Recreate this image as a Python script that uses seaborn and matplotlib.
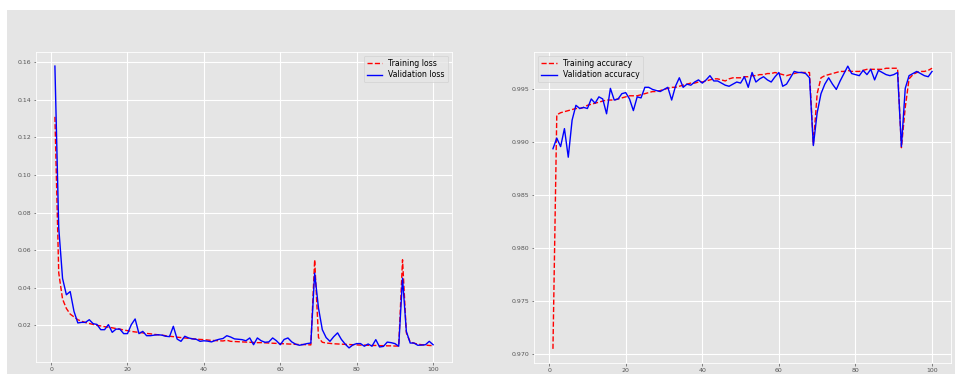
import numpy as np
import pandas as pd
import matplotlib
matplotlib.use("Agg")
import matplotlib.pyplot as plt
from matplotlib.patches import Rectangle
import seaborn as sns

epochs = list(range(1, 101))

train_loss = [
    0.131, 0.048, 0.034, 0.029, 0.026, 0.0245, 0.023, 0.0222, 0.0215, 0.021,
    0.0205, 0.020, 0.0197, 0.0193, 0.019, 0.0187, 0.0183, 0.018, 0.0175, 0.0172,
    0.0168, 0.0165, 0.0163, 0.016, 0.0157, 0.0155, 0.0152, 0.015, 0.0148, 0.0145,
    0.0142, 0.0140, 0.0137, 0.0135, 0.0133, 0.0131, 0.0129, 0.0127, 0.0125, 0.0124,
    0.0122, 0.0120, 0.0119, 0.0118, 0.0117, 0.0121, 0.0115, 0.0114, 0.0113, 0.0112,
    0.0111, 0.0110, 0.0109, 0.0108, 0.0108, 0.0107, 0.0106, 0.0105, 0.0104, 0.0103,
    0.0102, 0.0101, 0.0100, 0.0099, 0.0098, 0.0098, 0.0097, 0.0096, 0.0549, 0.0135,
    0.0110, 0.0106, 0.0104, 0.0102, 0.0101, 0.0100, 0.0099, 0.0098, 0.0097, 0.0096,
    0.0095, 0.0095, 0.0094, 0.0093, 0.0093, 0.0092, 0.0092, 0.0091, 0.0091, 0.0090,
    0.0090, 0.0549, 0.0160, 0.0112, 0.0105, 0.0100, 0.0097, 0.0095, 0.0093, 0.0092,
]

val_loss = [
    0.158, 0.072, 0.045, 0.0363, 0.038, 0.0274, 0.0213, 0.0216, 0.0216, 0.023,
    0.0209, 0.0205, 0.0177, 0.0177, 0.0204, 0.0163, 0.018, 0.018, 0.0156, 0.0156,
    0.0204, 0.0234, 0.0156, 0.0168, 0.0145, 0.0145, 0.0148, 0.0150, 0.0148, 0.0142,
    0.0140, 0.0195, 0.0127, 0.0115, 0.0142, 0.0133, 0.0128, 0.0126, 0.0115, 0.0118,
    0.0116, 0.0112, 0.0120, 0.0126, 0.0130, 0.0145, 0.0138, 0.0128, 0.0126, 0.0124,
    0.0118, 0.0133, 0.0097, 0.0133, 0.0118, 0.0110, 0.0112, 0.0133, 0.0118, 0.0097,
    0.0125, 0.0133, 0.0112, 0.0100, 0.0094, 0.0098, 0.0103, 0.0106, 0.0478, 0.0292,
    0.0177, 0.0135, 0.0115, 0.0140, 0.0160, 0.0125, 0.0100, 0.0080, 0.0096, 0.0103,
    0.0103, 0.0089, 0.0101, 0.0089, 0.0124, 0.0085, 0.0088, 0.0111, 0.0108, 0.0103,
    0.0089, 0.0451, 0.0168, 0.0106, 0.0106, 0.0094, 0.0095, 0.0097, 0.0115, 0.0097,
]

train_acc = [
    0.9705, 0.9926, 0.9928, 0.9929, 0.9930, 0.9931, 0.9932, 0.9932, 0.9933, 0.9935,
    0.9936, 0.9937, 0.9938, 0.9939, 0.9940, 0.9940, 0.9940, 0.9941, 0.9942, 0.9943,
    0.9944, 0.9944, 0.9944, 0.9945, 0.9946, 0.9947, 0.9948, 0.9948, 0.9949, 0.9950,
    0.9951, 0.9952, 0.9952, 0.9953, 0.9954, 0.9955, 0.9956, 0.9956, 0.9957, 0.9957,
    0.9958, 0.9959, 0.9960, 0.9960, 0.9959, 0.9958, 0.9960, 0.9961, 0.9961, 0.9961,
    0.9962, 0.9962, 0.9963, 0.9963, 0.9964, 0.9964, 0.9965, 0.9965, 0.9966, 0.9965,
    0.9964, 0.9963, 0.9964, 0.9965, 0.9966, 0.9966, 0.9966, 0.9966, 0.9898, 0.9946,
    0.9961, 0.9963, 0.9964, 0.9965, 0.9966, 0.9967, 0.9967, 0.9968, 0.9967, 0.9967,
    0.9967, 0.9968, 0.9969, 0.9969, 0.9969, 0.9969, 0.9969, 0.9970, 0.9970, 0.9970,
    0.9970, 0.9895, 0.9933, 0.9960, 0.9964, 0.9966, 0.9967, 0.9967, 0.9968, 0.9970,
]

val_acc = [
    0.9894, 0.9904, 0.9896, 0.9913, 0.9886, 0.9921, 0.9935, 0.9932, 0.9933, 0.9932,
    0.9941, 0.9937, 0.9943, 0.9941, 0.9927, 0.9951, 0.9940, 0.9941, 0.9946, 0.9947,
    0.9941, 0.9930, 0.9943, 0.9942, 0.9952, 0.9952, 0.9950, 0.9949, 0.9948, 0.9950,
    0.9952, 0.9940, 0.9953, 0.9961, 0.9952, 0.9955, 0.9954, 0.9957, 0.9959, 0.9956,
    0.9959, 0.9963, 0.9958, 0.9958, 0.9956, 0.9954, 0.9953, 0.9955, 0.9957, 0.9956,
    0.9962, 0.9952, 0.9966, 0.9957, 0.9960, 0.9962, 0.9959, 0.9957, 0.9962, 0.9966,
    0.9953, 0.9955, 0.9961, 0.9967, 0.9966, 0.9966, 0.9965, 0.9961, 0.9897, 0.9928,
    0.9946, 0.9955, 0.9961, 0.9955, 0.9950, 0.9958, 0.9965, 0.9972, 0.9965, 0.9964,
    0.9963, 0.9968, 0.9964, 0.9969, 0.9959, 0.9968, 0.9966, 0.9964, 0.9963, 0.9964,
    0.9966, 0.9896, 0.9951, 0.9963, 0.9965, 0.9967, 0.9965, 0.9963, 0.9962, 0.9967,
]

loss_labels = ["Training loss", "Validation loss"]
acc_labels = ["Training accuracy", "Validation accuracy"]

plt.style.use("ggplot")
plt.rcParams["font.family"] = ["DejaVu Sans"]

W, H = 955, 374
fig = plt.figure(figsize=(W / 100, H / 100), dpi=100, facecolor="white")
bg = Rectangle((7 / W, -0.01), 1.02 - 7 / W, 1.01 - 10 / H,
               transform=fig.transFigure, facecolor="#E5E5E5",
               edgecolor="none", zorder=-10)
fig.add_artist(bg)

ax1 = fig.add_axes([36 / W, (H - 362) / H, (452 - 36) / W, (362 - 52) / H])
ax2 = fig.add_axes([534 / W, (H - 363) / H, (951 - 534) / W, (363 - 52) / H])

fs_tick = 4.5
fs_leg = 5.6
lw = 1.0

sns.lineplot(x=epochs, y=train_loss, ax=ax1, color="red", linestyle="--",
             linewidth=lw, label=loss_labels[0])
sns.lineplot(x=epochs, y=val_loss, ax=ax1, color="blue", linestyle="-",
             linewidth=lw, label=loss_labels[1])
sns.lineplot(x=epochs, y=train_acc, ax=ax2, color="red", linestyle="--",
             linewidth=lw, label=acc_labels[0])
sns.lineplot(x=epochs, y=val_acc, ax=ax2, color="blue", linestyle="-",
             linewidth=lw, label=acc_labels[1])

for ax in (ax1, ax2):
    ax.set_xlabel("")
    ax.set_ylabel("")
    ax.tick_params(labelsize=fs_tick, length=1.8, width=0.5, pad=1.8,
                   colors="#555555")
    ax.grid(True, color="white", linewidth=0.8)
    for s in ax.spines.values():
        s.set_linewidth(0.6)
        s.set_edgecolor("white")

ax1.set_yticks([0.02, 0.04, 0.06, 0.08, 0.10, 0.12, 0.14, 0.16])
ax1.set_yticklabels(["0.02", "0.04", "0.06", "0.08", "0.10", "0.12", "0.14", "0.16"])
ax2.set_yticks([0.970, 0.975, 0.980, 0.985, 0.990, 0.995])

ax1.legend(loc="upper right", fontsize=fs_leg, handlelength=2.0,
           borderpad=0.4, labelspacing=0.3)
ax2.legend(loc="upper left", fontsize=fs_leg, handlelength=2.0,
           borderpad=0.4, labelspacing=0.3)

fig.savefig("out.png", dpi=100, facecolor=fig.get_facecolor())
